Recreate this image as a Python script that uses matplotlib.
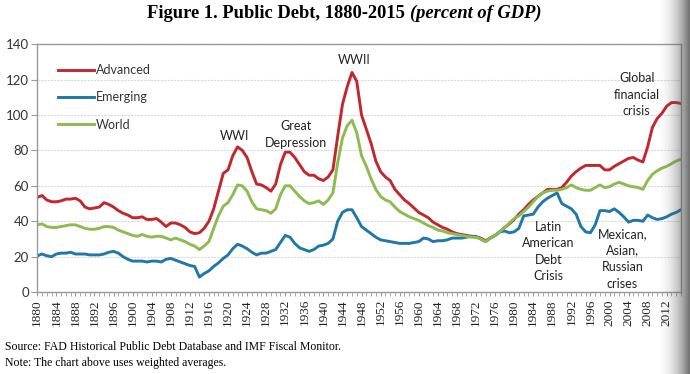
import numpy as np
import matplotlib
matplotlib.use("Agg")
import matplotlib.pyplot as plt
from matplotlib.ticker import MultipleLocator

# --- data (percent of GDP) ---
years = list(range(1880, 2016))

advanced = [
    53.5, 54.5, 52, 51, 51, 51.5, 52.5, 52.5, 53, 51.5,          # 1880s
    48, 47, 47.5, 48, 50.5, 49.5, 48, 46, 44.5, 43.5,            # 1890s
    42, 42, 42.5, 41, 41, 41.5, 39.5, 37, 39, 39,                # 1900s
    38, 36.5, 34, 33, 33.5, 36, 40, 47, 57, 67,                  # 1910s
    69, 77, 82, 80, 76, 68, 61, 60.5, 59, 57,                    # 1920s
    61, 72, 79, 79, 76, 72, 68, 66, 66, 64,                      # 1930s
    63, 65, 69, 88, 106, 116, 124, 119, 100, 92,                 # 1940s
    84, 74, 68, 65, 63, 58, 55, 52, 50, 47.5,                    # 1950s
    45, 43.5, 42, 39.5, 38, 36.5, 35.5, 34, 33, 32.5,            # 1960s
    32, 31.5, 31, 30.5, 29, 30.5, 32, 34, 36.5, 38.5,            # 1970s
    41, 44, 46.5, 49.5, 52, 54, 56, 58, 58, 58,                  # 1980s
    59, 62, 65.5, 68, 70, 71.5, 71.5, 71.5, 71.5, 69,            # 1990s
    69, 71, 72.5, 74, 75.5, 76, 74.5, 73.5, 82, 93,              # 2000s
    98, 101, 105, 107, 107, 106.5,                               # 2010s
]

emerging = [
    20.5, 21.5, 20.5, 20, 21.5, 22, 22, 22.5, 21.5, 21.5,
    21.5, 21, 21, 21, 21.5, 22.5, 23, 22, 20, 18.5,
    17.5, 17.5, 17.5, 17, 17.5, 17.5, 17, 18.5, 19, 18,
    17, 16, 15, 14.5, 8.5, 10.5, 12, 14.5, 16.5, 19,
    21, 24.5, 27, 26, 24.5, 22.5, 21, 22, 22, 23,
    24, 28, 32, 31, 27.5, 25, 24, 23, 24, 26,
    26.5, 27.5, 30, 40, 45, 46.5, 46.5, 42, 37, 35,
    33, 31, 29.5, 29, 28.5, 28, 27.5, 27.5, 27.5, 28,
    28.5, 30.5, 30, 28.5, 29, 29, 29.5, 30.5, 30.5, 30.5,
    31, 31.5, 31.5, 30, 28.5, 30.5, 32, 34, 34.5, 33.5,
    34, 36, 43, 43.5, 44, 48, 51, 53, 54.5, 56,
    50, 48.5, 47, 44, 37, 34, 33.5, 38, 46, 46,
    45.5, 47, 45, 42.5, 39.5, 40.5, 40.5, 40, 43.5, 42,
    41, 41.5, 42.5, 44, 45, 46.5,
]

world = [
    38, 38.5, 37, 36.5, 36.5, 37, 37.5, 38, 38, 37,
    36, 35.5, 35.5, 36, 37, 37, 36.5, 35, 34, 33,
    32, 31.5, 32.5, 31.5, 31, 31.5, 31.5, 30.5, 29.5, 30.5,
    29.5, 28.5, 27, 26, 24, 26, 28.5, 36, 43, 48.5,
    50.5, 55, 60.5, 60, 57, 51, 47, 46.5, 46, 44.5,
    47, 55, 60, 60, 57, 54, 51.5, 50, 50.5, 51.5,
    49.5, 52, 56, 73, 87, 94, 97, 90, 77, 71,
    64, 58, 54, 52, 51, 48, 45.5, 44, 42.5, 41.5,
    40.5, 39, 37.5, 36.5, 35, 34.5, 33.5, 33, 32.5, 32,
    31.5, 31, 31, 30, 28.5, 30.5, 32, 34, 36.5, 39,
    41.5, 43, 45.5, 48, 51, 54, 56, 57, 57.5, 57.5,
    58, 59, 60.5, 59, 58, 57.5, 57.5, 59, 60.5, 59,
    59.5, 61, 62, 61, 60, 59.5, 59, 58, 63, 66.5,
    68.5, 70, 71, 72.5, 74, 75,
]

series_names = ["Advanced", "Emerging", "World"]
series_colors = ["#C1272D", "#1F78A8", "#8DBB50"]

# annotations: (text, year, value)
notes = [
    ("WWI", 1921.3, 88),
    ("Great\nDepression", 1934.3, 89),
    ("WWII", 1946.5, 131),
    ("Global\nfinancial\ncrisis", 2005.7, 111.4),
    ("Latin\nAmerican\nDebt\nCrisis", 1987.2, 22.8),
    ("Mexican,\nAsian,\nRussian\ncrises", 2002.7, 18.8),
]

sans = ["Lato", "DejaVu Sans"]
serif = ["Liberation Serif", "DejaVu Serif"]

fig = plt.figure(figsize=(6.9, 3.74), dpi=100)
ax = fig.add_axes([0.054, 0.219, 0.933, 0.663])

for vals, name, col in zip([advanced, emerging, world], series_names, series_colors):
    ax.plot(years, vals, color=col, lw=2.1, label=name, solid_joinstyle="round")

ax.set_xlim(1880, 2015)
ax.set_ylim(0, 140)
ax.yaxis.set_major_locator(MultipleLocator(20))
ax.set_xticks(range(1880, 2016, 4))
ax.xaxis.set_minor_locator(MultipleLocator(1))
ax.tick_params(axis="x", which="both", length=3, color="#999999", labelrotation=90,
               labelsize=9.5, pad=2, labelcolor="#222222")
ax.tick_params(axis="y", length=4, color="#999999", labelsize=9.5, labelcolor="#333333", pad=2)
for lab in ax.get_xticklabels():
    lab.set_family(serif)
for lab in ax.get_yticklabels():
    lab.set_family(sans)

ax.grid(axis="y", color="#d9d9d9", lw=0.8, ls=(0, (2, 1)))
ax.set_axisbelow(True)
for sp in ax.spines.values():
    sp.set_color("#999999")
    sp.set_linewidth(1.0)

leg = ax.legend(loc="upper left", bbox_to_anchor=(0.015, 0.965), frameon=False,
                handlelength=2.9, handletextpad=0.1, labelspacing=1.22,
                prop={"family": sans, "size": 9})
for t in leg.get_texts():
    t.set_color("#333333")

for txt, x, y in notes:
    ax.text(x, y, txt, ha="center", va="center", fontsize=9, family=sans,
            color="#222222", linespacing=1.45)

# title: bold part + bold italic part, centred as one line
t1 = fig.text(0, 0.965, "Figure 1. Public Debt, 1880-2015 ", fontsize=13.3,
              weight="bold", family=serif, va="center", ha="left")
t2 = fig.text(0, 0.965, "(percent of GDP)", fontsize=13.3,
              weight="bold", style="italic", family=serif, va="center", ha="left")
fig.canvas.draw()
w1 = t1.get_window_extent().width
w2 = t2.get_window_extent().width
x0 = 344 - (w1 + w2) / 2
t1.set_x(x0 / fig.bbox.width)
t2.set_x((x0 + w1) / fig.bbox.width)

fig.text(0.007, 0.072, "Source: FAD Historical Public Debt Database and IMF Fiscal Monitor.",
         fontsize=8.5, family=serif, va="center", ha="left")
fig.text(0.007, 0.029, "Note: The chart above uses weighted averages.",
         fontsize=8.5, family=serif, va="center", ha="left")

# grey shadow band on the right edge of the screenshot
shade = fig.add_axes([655 / 690, 0, 35 / 690, 1])
w = np.linspace(0, 1, 70)
rgba = np.zeros((1, 70, 4))
rgba[..., :3] = 0.33
rgba[..., 3] = w ** 2.2 * 0.85
shade.imshow(rgba, aspect="auto", extent=(0, 1, 0, 1))
shade.set_axis_off()

fig.savefig("out.png", dpi=100)
